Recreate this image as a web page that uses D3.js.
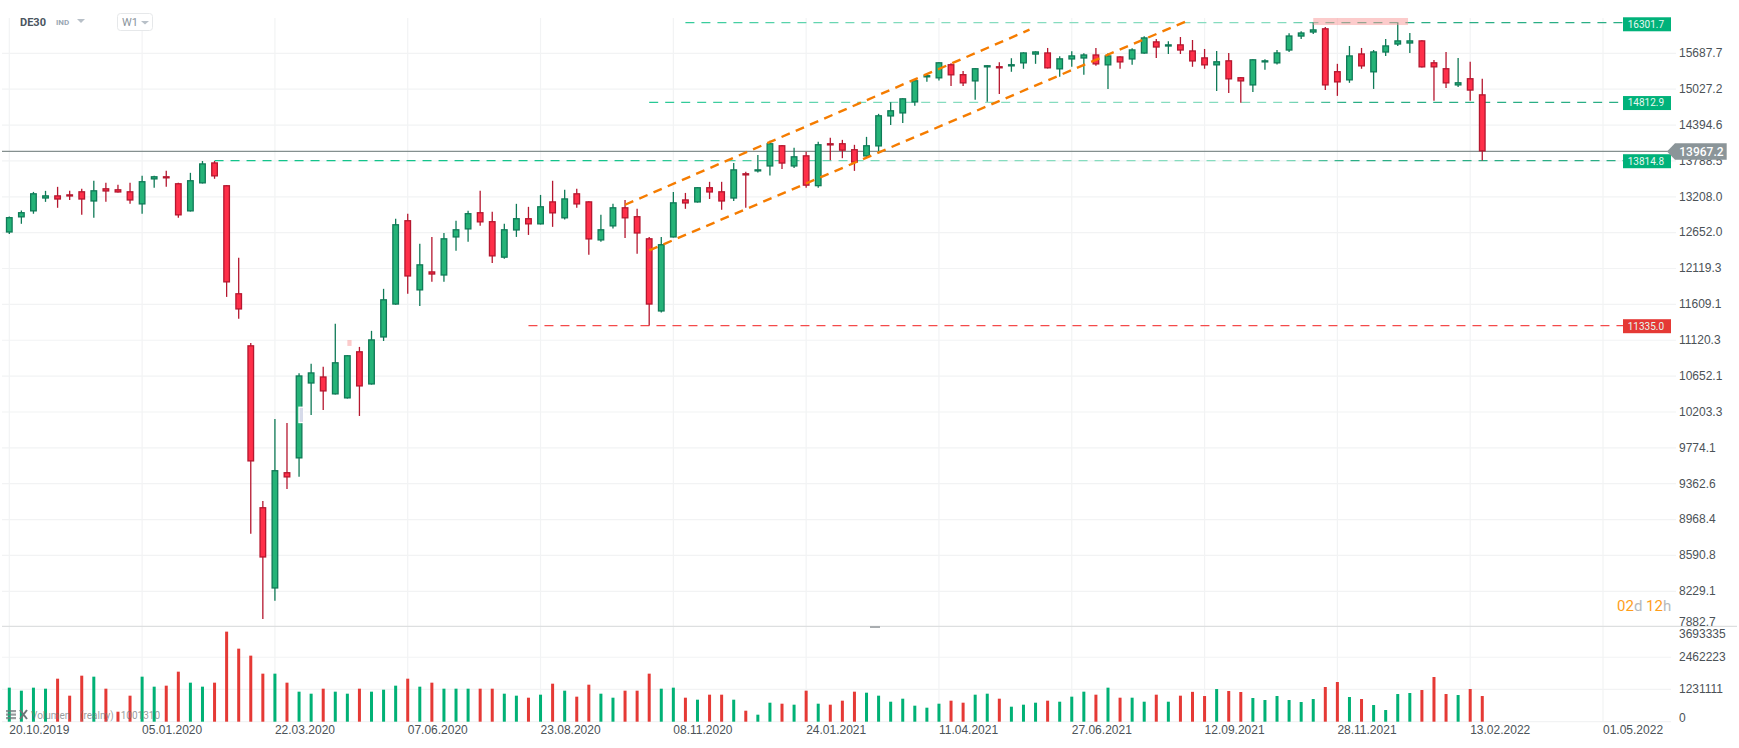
<!DOCTYPE html>
<html>
<head>
<meta charset="utf-8">
<title>DE30 W1</title>
<script src="https://d3js.org/d3.v7.min.js"></script>
<style>
  html, body { margin: 0; padding: 0; background: #fff; }
  svg { display: block; font-family: Roboto, sans-serif; }
  .axis text { font-size: 12px; fill: #4b5257; }
</style>
</head>
<body>
<svg id="chart" width="1739" height="748"></svg>
<script>
"use strict";

// weekly candles, first one is the week of 20.10.2019
const firstWeek = Date.UTC(2019, 9, 20);
const weekMs = 7 * 24 * 3600 * 1000;

const opens = [
  12672,12904,12997,13199,13253,13269,13318,13152,13366,13350,
  13318,13106,13505,13560,13447,12997,13441,13787,13415,11785,
  11072,9118,8269,9509,9665,10573,10666,10436,10386,10993,
  10561,11173,11623,12864,11822,12098,12035,12597,12719,12988,
  12849,12295,12703,12895,12796,13158,12889,13286,13158,12552,
  12765,13065,12926,12588,11527,12597,13189,13137,13383,13318,
  13199,13609,13635,13716,14074,13716,13905,13396,14108,14108,
  14007,13882,14050,14564,14617,14811,15263,15245,15510,15326,
  15189,15447,15473,15465,15521,15686,15731,15410,15594,15612,
  15693,15484,15656,15594,15705,15941,15838,15884,15769,15638,
  15484,15583,15270,15116,15539,15521,15762,16028,16106,16193,
  15381,15208,15712,15355,15724,15876,15895,15960,15546,15436,
  15116,15252,14960
];
const highs = [
  12920,13013,13306,13323,13387,13323,13355,13485,13452,13420,
  13452,13565,13565,13646,13452,13614,13809,13809,13415,12295,
  11102,9184,10135,10087,10705,10827,10788,11360,10941,11049,
  11264,11846,12884,12962,12503,12607,12667,12853,13008,13323,
  12993,12807,13117,13070,13258,13485,13339,13355,13158,12946,
  13117,13179,13039,12607,12607,13306,13290,13383,13468,13468,
  13776,13630,13910,14147,14074,14029,13961,14130,14197,14163,
  14079,14214,14612,14818,14889,15215,15344,15546,15528,15381,
  15436,15491,15546,15620,15731,15750,15813,15656,15750,15712,
  15813,15712,15656,15807,16036,15984,15941,16022,15965,15794,
  15756,15718,15270,15602,15602,15775,16093,16131,16302,16218,
  15515,15851,15813,15775,15984,16292,16099,15960,15588,15737,
  15625,15552,15239
];
const lows = [
  12652,12807,12962,13148,13055,13179,12946,12900,13148,13295,
  13117,12962,13371,13387,12900,12997,13441,13517,11732,11428,
  8830,7974,8149,9319,9455,10183,10244,10436,10386,10171,
  10561,11128,11623,11775,11605,11946,11946,12399,12533,12776,
  12220,12280,12607,12637,12796,12760,12873,13055,12340,12533,
  12734,12592,12354,11335,11514,12597,13039,13137,13194,13024,
  13163,13055,13619,13570,13678,13695,13371,13371,13821,13855,
  13646,13865,13973,14417,14453,14753,15184,15208,15110,15110,
  14859,14824,14965,15368,15423,15515,15429,15276,15460,15312,
  15478,15055,15423,15497,15705,15625,15699,15699,15460,15423,
  15018,14983,14806,15000,15405,15502,15737,15984,16082,15037,
  14930,15165,15423,15055,15662,15851,15718,15447,14841,15073,
  15092,14841,13814.8
];
const closes = [
  12911,12988,13286,13253,13183,13231,13183,13334,13311,13295,
  13168,13480,13560,13522,12935,13496,13771,13554,11936,11555,
  9630,8582,9532,9447,10679,10718,10473,10849,10941,10536,
  11151,11700,12802,12021,12201,12049,12588,12725,12973,12827,
  12314,12725,12895,12796,13081,12966,13205,13106,12567,12725,
  13065,12889,12657,11623,12499,13143,13121,13383,13295,13152,
  13673,13570,13673,14108,13764,13889,13404,14091,14067,13978,
  13780,14074,14589,14677,14889,15215,15307,15546,15300,15153,
  15436,15491,15429,15510,15731,15750,15429,15620,15675,15693,
  15502,15675,15539,15788,16017,15819,15884,15762,15557,15484,
  15565,15226,15189,15602,15583,15731,16054,16112,16172,15116,
  15171,15675,15465,15750,15864,15960,15960,15447,15447,15153,
  15178,15023,13967.2
];
// volume in thousands
const volumesK = [
  1300,1185,1300,1261,1643,994,1758,1720,1261,382,
  994,1720,1338,1376,1911,1491,1338,1491,3440,2790,
  2523,1835,1835,1491,1147,1070,1261,1147,1070,1261,
  1147,1223,1376,1643,1338,1491,1261,1261,1261,1261,
  1261,1070,994,917,1032,1452,1185,956,1414,1070,
  917,1185,1185,1835,1261,1300,917,841,1032,1032,
  841,420,268,726,688,650,1185,688,650,803,
  1147,1108,994,764,879,612,535,688,803,726,
  1032,1070,879,573,650,726,803,764,956,1147,
  1032,1300,917,917,764,1032,764,994,1140,981,
  1248,1172,1134,905,828,981,828,752,866,1325,
  1516,943,866,637,446,1057,1096,1210,1707,1057,
  1019,1248,981
];

const priceTicks = [15687.7,15027.2,14394.6,13788.5,13208.0,12652.0,12119.3,11609.1,11120.3,10652.1,10203.3,9774.1,9362.6,8968.4,8590.8,8229.1,7882.7];
const volumeTicks = [0,1231111,2462223,3693335];
const dateTicks = ['2019-10-20','2020-01-05','2020-03-22','2020-06-07','2020-08-23','2020-11-08','2021-01-24','2021-04-11','2021-06-27','2021-09-12','2021-11-28','2022-02-13','2022-05-01'];

const lastPrice = 13967.2;
const levelValues = [16301.7,14812.9,13814.8,11335.0];
const levelStartWeeks = [56,53,17,43];
const levelKinds = ['green','green','green','red'];

// channel lines: [week, price, week, price]
const trendLines = [
  [51,13103,84.5,16163],
  [53,12405,97.4,16319]
];
// pink highlight boxes: [weekFrom, weekTo, priceTop, priceBottom]
const pinkBoxes = [
  [108,115.85,16392,16254],
  [28,28.35,11141,11062]
];
const cursorBox = [23.99,24.38,10278,10091];

const svg = d3.select('#chart');

const weekDate = i => new Date(firstWeek + i * weekMs);

const x = d3.scaleUtc()
  .domain([new Date(dateTicks[0]), new Date(dateTicks[12])])
  .range([9.3, 1603]);
const y = d3.scaleLog()
  .domain([15687.7, 7882.7])
  .range([54.6, 628.5]);
const yVol = d3.scaleLinear()
  .domain([0, 3693335])
  .range([721.7, 625]);

const gridY = -1.3; // price gridlines and labels sit slightly above the marks
const candles = opens.map((o, i) => ({
  i: i, open: o, high: highs[i], low: lows[i], close: closes[i], vol: volumesK[i] * 1000,
  up: closes[i] >= o
}));

// grid
const grid = svg.append('g').attr('fill', 'none').attr('stroke', '#f2f3f4').attr('stroke-width', 1.2);
grid.selectAll('.v').data(dateTicks).join('line')
  .attr('x1', d => x(new Date(d))).attr('x2', d => x(new Date(d)))
  .attr('y1', 18).attr('y2', 722);
grid.selectAll('.h').data(priceTicks.slice(0, 16)).join('line')
  .attr('x1', 2).attr('x2', 1676)
  .attr('y1', d => y(d) + gridY).attr('y2', d => y(d) + gridY);
grid.selectAll('.hv').data(volumeTicks.slice(0, 3)).join('line')
  .attr('x1', 2).attr('x2', 1671)
  .attr('y1', d => yVol(d)).attr('y2', d => yVol(d));

// pane separator
svg.append('line').attr('x1', 2).attr('x2', 1737).attr('y1', 626.3).attr('y2', 626.3)
  .attr('stroke', '#dddfe0').attr('stroke-width', 1.2);
svg.append('rect').attr('x', 870).attr('y', 626).attr('width', 10).attr('height', 2).attr('fill', '#a9adb0');

// last price line
svg.append('line').attr('x1', 2).attr('x2', 1675).attr('y1', y(lastPrice)).attr('y2', y(lastPrice))
  .attr('stroke', '#85908f').attr('stroke-width', 1.2);

// level lines, the green ones fade in the middle of the chart
const defs = svg.append('defs');
const fade = defs.append('linearGradient').attr('id', 'levelFade')
  .attr('gradientUnits', 'userSpaceOnUse').attr('x1', 0).attr('x2', 1623).attr('y1', 0).attr('y2', 0);
[[0.37, '#12c48b'], [0.56, '#86dcbf'], [0.79, '#86dcbf'], [0.83, '#2aae85'], [1, '#2aae85']].forEach(s => {
  fade.append('stop').attr('offset', s[0]).attr('stop-color', s[1]);
});
// a horizontal line has an empty bounding box, so the gradient is user space and the path gets a hair of slope
svg.append('g').selectAll('path').data(levelValues).join('path')
  .attr('d', (d, k) => 'M' + x(weekDate(levelStartWeeks[k])) + ',' + y(d) + 'L1623,' + (y(d) + 0.01))
  .attr('fill', 'none')
  .attr('stroke', (d, k) => levelKinds[k] === 'red' ? '#f44a4a' : 'url(#levelFade)')
  .attr('stroke-width', 1.25)
  .attr('stroke-dasharray', '9,7');

// candles
const candleG = svg.append('g');
candleG.selectAll('.wick').data(candles).join('line')
  .attr('x1', d => x(weekDate(d.i))).attr('x2', d => x(weekDate(d.i)))
  .attr('y1', d => y(d.high)).attr('y2', d => y(d.low))
  .attr('stroke', d => d.up ? '#0f7a57' : '#b5172f')
  .attr('stroke-width', 1.3);
candleG.selectAll('.body').data(candles).join('rect')
  .attr('x', d => x(weekDate(d.i)) - 2.8)
  .attr('width', 5.6)
  .attr('y', d => Math.min(y(d.open), y(d.close)) + 0.65)
  .attr('height', d => Math.max(Math.abs(y(d.open) - y(d.close)) - 1.3, 1))
  .attr('fill', d => d.up ? '#25b378' : '#ff2f49')
  .attr('stroke', d => d.up ? '#0f7a57' : '#b5172f')
  .attr('stroke-width', 1.3);

// channel
svg.append('g').selectAll('line').data(trendLines).join('line')
  .attr('x1', d => x(weekDate(d[0]))).attr('y1', d => y(d[1]))
  .attr('x2', d => x(weekDate(d[2]))).attr('y2', d => y(d[3]))
  .attr('stroke', '#f57c00').attr('stroke-width', 2.4).attr('stroke-dasharray', '9,6.5');

// highlights
svg.append('g').selectAll('rect').data(pinkBoxes).join('rect')
  .attr('x', d => x(weekDate(d[0]))).attr('width', d => x(weekDate(d[1])) - x(weekDate(d[0])))
  .attr('y', d => y(d[2])).attr('height', d => y(d[3]) - y(d[2]))
  .attr('fill', '#fa9c9c').attr('fill-opacity', 0.52);
svg.append('rect')
  .attr('x', x(weekDate(cursorBox[0]))).attr('width', x(weekDate(cursorBox[1])) - x(weekDate(cursorBox[0])))
  .attr('y', y(cursorBox[2])).attr('height', y(cursorBox[3]) - y(cursorBox[2]))
  .attr('fill', '#d6daea').attr('stroke', '#fff').attr('stroke-width', 1.3);

// volume
svg.append('g').selectAll('rect').data(candles).join('rect')
  .attr('x', d => x(weekDate(d.i)) - 1.5)
  .attr('width', 3)
  .attr('y', d => yVol(d.vol))
  .attr('height', d => yVol(0) - yVol(d.vol))
  .attr('fill', d => d.up ? '#00b175' : '#e53935');

// axes
const priceAxis = d3.axisRight(y).tickValues(priceTicks).tickSize(0).tickPadding(0).offset(0)
  .tickFormat(d3.format('.1f'));
const priceG = svg.append('g').attr('class', 'axis').attr('transform', 'translate(1679,' + gridY + ')').call(priceAxis);
priceG.select('.domain').remove();
priceG.selectAll('text').filter(d => d === 7882.7).attr('y', -5);

const volAxis = d3.axisRight(yVol).tickValues(volumeTicks).tickSize(0).tickPadding(0).offset(0)
  .tickFormat(d3.format('d'));
const volG = svg.append('g').attr('class', 'axis').attr('transform', 'translate(1679,0)').call(volAxis);
volG.select('.domain').remove();
volG.selectAll('text').filter(d => d === 0).attr('y', -4);
volG.selectAll('text').filter(d => d === 3693335).attr('y', 9);

const timeAxis = d3.axisBottom(x).tickValues(dateTicks.map(d => new Date(d))).tickSize(0).tickPadding(0).offset(0)
  .tickFormat(d3.utcFormat('%d.%m.%Y'));
const timeG = svg.append('g').attr('class', 'axis').attr('transform', 'translate(0,725)').call(timeAxis);
timeG.select('.domain').remove();
timeG.selectAll('text').attr('text-anchor', 'start');

// level labels
const labelG = svg.append('g').selectAll('g').data(levelValues).join('g')
  .attr('transform', d => 'translate(1623,' + (y(d) + (d === 16301.7 ? 1.7 : 0.6)) + ')');
labelG.append('rect').attr('y', -7).attr('width', 48).attr('height', 14)
  .attr('fill', (d, k) => levelKinds[k] === 'red' ? '#e53935' : '#00b27a');
labelG.append('text').attr('x', 4.7).attr('dy', '.34em')
  .attr('font-size', 10).attr('fill', '#e6f8f1')
  .text(d => d3.format('.1f')(d));

// last price tag, drawn over the 13788.5 tick label as in the platform
const tag = svg.append('g').attr('transform', 'translate(0,' + y(lastPrice) + ')');
tag.append('path').attr('d', 'M1667,0L1675,-8.2H1726.7V8.2H1675Z').attr('fill', '#8b9599');
tag.append('text').attr('x', 1679.3).attr('dy', '.36em')
  .attr('font-size', 12).attr('font-weight', 500).attr('fill', '#fff')
  .text(d3.format('.1f')(lastPrice));

// countdown
const countdown = svg.append('text').attr('x', 1617).attr('y', 611).attr('font-size', 15);
[['02', '#ff9e1b'], ['d ', '#b5b9bc'], ['12', '#ff9e1b'], ['h', '#b5b9bc']].forEach(p => {
  countdown.append('tspan').attr('fill', p[1]).text(p[0]);
});

// header
svg.append('text').attr('x', 20).attr('y', 26).attr('font-size', 11).attr('font-weight', 700).attr('fill', '#4a5560').text('DE30');
svg.append('text').attr('x', 56).attr('y', 25).attr('font-size', 8).attr('font-weight', 700).attr('fill', '#9aa7b3').text('IND');
svg.append('path').attr('d', 'M77,19H85L81,23Z').attr('fill', '#b8c0c8');
svg.append('rect').attr('x', 117.5).attr('y', 13.5).attr('width', 35).attr('height', 17).attr('rx', 3)
  .attr('fill', '#fff').attr('stroke', '#e6e8ea');
svg.append('text').attr('x', 122).attr('y', 25.5).attr('font-size', 11).attr('fill', '#8a949c').text('W1');
svg.append('path').attr('d', 'M141,21H149L145,24.5Z').attr('fill', '#b8c0c8');

// volume legend on top of the bars
const legend = svg.append('g').attr('fill', '#6f7579').attr('fill-opacity', 0.72);
[710, 713.5, 717].forEach(v => {
  legend.append('rect').attr('x', 6).attr('y', v).attr('width', 10).attr('height', 2.2);
});
legend.append('path').attr('d', 'M20,710L27,719M27,710L20,719').attr('stroke', '#6f7579').attr('stroke-width', 2).attr('fill', 'none');
[['Volumen', 31], ['(realny)', 80], ['1001310', 120.7]].forEach(t => {
  legend.append('text').attr('x', t[1]).attr('y', 719).attr('font-size', 10).text(t[0]);
});
</script>
</body>
</html>
